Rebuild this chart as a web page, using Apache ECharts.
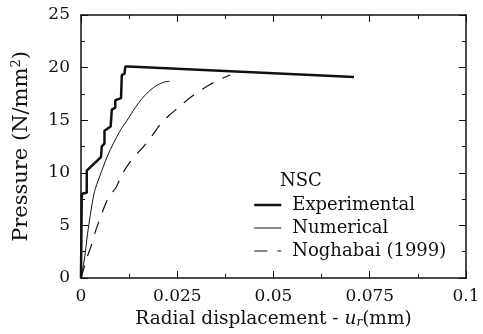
<!DOCTYPE html>
<html>
<head>
<meta charset="utf-8">
<script src="https://cdn.jsdelivr.net/npm/echarts@6/dist/echarts.min.js"></script>
<style>
  html, body { margin: 0; padding: 0; background: #fff; }
  #chart { width: 483px; height: 334px; }
</style>
</head>
<body>
<div id="chart"></div>
<script>
// NSC pressure vs radial displacement
const experimental = [
  [0, 0], [0.0002, 8.0], [0.0015, 8.1], [0.0015, 10.2], [0.0052, 11.5],
  [0.0054, 12.5], [0.0061, 12.8], [0.0061, 14.0], [0.0077, 14.4], [0.0080, 16.0],
  [0.0089, 16.2], [0.0089, 16.9], [0.0104, 17.1], [0.0106, 19.3], [0.0113, 19.4],
  [0.0115, 20.1], [0.0123, 20.1], [0.0709, 19.1]
];
const numerical = [
  [0, 0], [0.0004, 0.8], [0.0009, 1.8], [0.0017, 4.2], [0.0026, 6.4],
  [0.0035, 8.2], [0.0048, 9.6], [0.0070, 11.7], [0.0100, 13.9], [0.0120, 15.0],
  [0.0141, 16.2], [0.0162, 17.2], [0.0188, 18.1], [0.0214, 18.6], [0.0230, 18.7]
];
const noghabai = [
  [0, 0], [0.0004, 0.5], [0.0017, 2.1], [0.0026, 3.0], [0.0039, 4.6],
  [0.0048, 5.5], [0.0061, 6.8], [0.0074, 7.8], [0.0091, 8.6], [0.0106, 9.8],
  [0.0123, 10.8], [0.0141, 11.6], [0.0167, 12.7], [0.0184, 13.5], [0.0206, 14.6],
  [0.0227, 15.4], [0.0253, 16.2], [0.0275, 16.9], [0.0305, 17.7], [0.0335, 18.4],
  [0.0362, 18.9], [0.0388, 19.3]
];
const seriesNames = ["Experimental", "Numerical", "Noghabai (1999)"];

const font = "DejaVu Serif";
const ink = "#111";

const chart = echarts.init(document.getElementById("chart"));

const tickStyle = { lineStyle: { color: ink, width: 1 } };
const xBase = {
  type: "value", min: 0, max: 0.1, interval: 0.025,
  axisLine: { show: true, onZero: false, lineStyle: { color: ink, width: 1.5 } },
  axisTick: { show: true, inside: true, length: 7, ...tickStyle },
  minorTick: { show: true, splitNumber: 2, length: 4, lineStyle: { color: ink } },
  splitLine: { show: false },
};
const yBase = {
  type: "value", min: 0, max: 25, interval: 5,
  axisLine: { show: true, onZero: false, lineStyle: { color: ink, width: 1.5 } },
  axisTick: { show: true, inside: true, length: 7, ...tickStyle },
  minorTick: { show: true, splitNumber: 2, length: 4, lineStyle: { color: ink } },
  splitLine: { show: false },
};

const lineWidths = [2.5, 1, 1.2];

chart.setOption({
  animation: false,
  textStyle: { fontFamily: font, color: ink },
  grid: { left: 81, right: 17, top: 15, bottom: 56 },
  title: {
    text: "NSC", left: 280, top: 172, padding: 0,
    textStyle: { fontFamily: font, fontWeight: "normal", fontSize: 18, color: ink }
  },
  legend: {
    data: seriesNames.map((n, i) => ({
      name: n,
      lineStyle: { width: lineWidths[i], type: i === 2 ? [13, 10] : "solid", color: ink }
    })),
    orient: "vertical", left: 253, top: 196, padding: 0,
    itemWidth: 27, itemHeight: 14, itemGap: 5,
    itemStyle: { opacity: 0 },
    textStyle: { fontFamily: font, fontSize: 18, lineHeight: 18, color: ink, padding: [0, 0, 0, 6] }
  },
  xAxis: [
    {
      ...xBase, position: "bottom",
      axisLabel: { fontSize: 17, color: ink, margin: 10 },
      name: "{a|Radial displacement - }{i|u}{s|r}{a|(mm)}",
      nameLocation: "middle", nameGap: 28,
      nameTextStyle: {
        rich: {
          a: { fontFamily: font, fontSize: 18.5, color: ink },
          i: { fontFamily: font, fontSize: 18.5, fontStyle: "italic", color: ink },
          s: { fontFamily: font, fontSize: 12, fontStyle: "italic", color: ink, padding: [7, 0, 0, 0] }
        }
      }
    },
    { ...xBase, position: "top", axisLabel: { show: false } }
  ],
  yAxis: [
    {
      ...yBase, position: "left",
      axisLabel: { fontSize: 17, color: ink, margin: 11 },
      name: "{a|Pressure (N/mm}{s|2}{a|)}",
      nameLocation: "middle", nameGap: 48,
      nameTextStyle: {
        rich: {
          a: { fontFamily: font, fontSize: 21, color: ink },
          s: { fontFamily: font, fontSize: 13, color: ink, padding: [0, 0, 10, 0] }
        }
      }
    },
    { ...yBase, position: "right", axisLabel: { show: false } }
  ],
  series: [
    {
      name: seriesNames[0], type: "line", data: experimental, symbol: "none",
      lineStyle: { color: ink, width: lineWidths[0] }, itemStyle: { color: ink }
    },
    {
      name: seriesNames[1], type: "line", data: numerical, symbol: "none", smooth: 0.3,
      lineStyle: { color: ink, width: lineWidths[1] }, itemStyle: { color: ink }
    },
    {
      name: seriesNames[2], type: "line", data: noghabai, symbol: "none", smooth: 0.3,
      lineStyle: { color: ink, width: lineWidths[2], type: [13, 10] }, itemStyle: { color: ink }
    }
  ]
});
</script>
</body>
</html>
